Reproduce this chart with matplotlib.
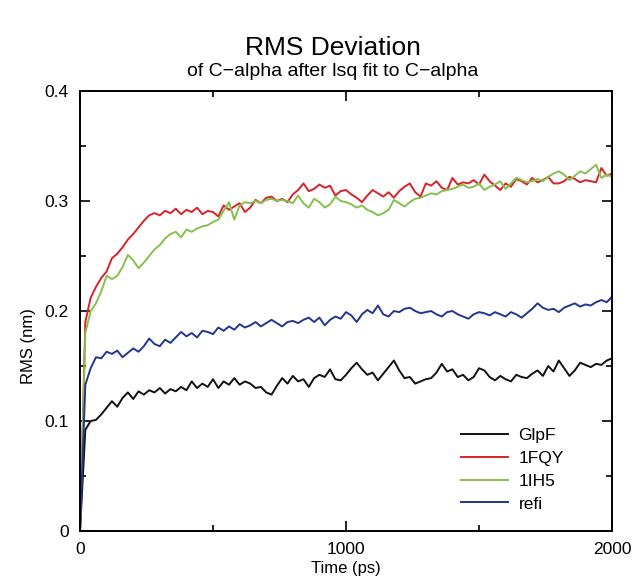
import numpy as np
import matplotlib
matplotlib.use("Agg")
import matplotlib.pyplot as plt
from matplotlib.ticker import MultipleLocator

plt.rcParams['font.family'] = ['Liberation Sans', 'DejaVu Sans']

# time axis, one frame every 20 ps
time = np.arange(0, 2001, 20)

glpf = [
    0.0, 0.092, 0.100, 0.101, 0.106, 0.112, 0.118, 0.113, 0.121, 0.126,
    0.120, 0.127, 0.124, 0.128, 0.126, 0.130, 0.125, 0.129, 0.127, 0.131,
    0.128, 0.136, 0.130, 0.134, 0.131, 0.138, 0.130, 0.136, 0.133, 0.139,
    0.133, 0.136, 0.134, 0.130, 0.131, 0.126, 0.124, 0.132, 0.139, 0.134,
    0.141, 0.136, 0.138, 0.131, 0.139, 0.142, 0.140, 0.147, 0.138, 0.137,
    0.142, 0.148, 0.153, 0.147, 0.142, 0.144, 0.137, 0.143, 0.149, 0.155,
    0.146, 0.139, 0.140, 0.134, 0.136, 0.138, 0.139, 0.144, 0.152, 0.145,
    0.147, 0.140, 0.142, 0.137, 0.140, 0.148, 0.146, 0.140, 0.137, 0.141,
    0.138, 0.136, 0.142, 0.140, 0.139, 0.143, 0.146, 0.141, 0.150, 0.145,
    0.155, 0.148, 0.141, 0.146, 0.153, 0.151, 0.149, 0.152, 0.151, 0.155,
    0.157]

fqy = [
    0.0, 0.190, 0.212, 0.222, 0.230, 0.236, 0.248, 0.252, 0.258, 0.265,
    0.270, 0.276, 0.282, 0.287, 0.289, 0.287, 0.291, 0.289, 0.293, 0.288,
    0.292, 0.290, 0.294, 0.288, 0.291, 0.290, 0.286, 0.296, 0.292, 0.295,
    0.298, 0.290, 0.294, 0.301, 0.298, 0.303, 0.304, 0.300, 0.302, 0.299,
    0.306, 0.310, 0.316, 0.309, 0.311, 0.315, 0.312, 0.314, 0.305, 0.309,
    0.310, 0.306, 0.303, 0.299, 0.305, 0.310, 0.307, 0.304, 0.308, 0.303,
    0.309, 0.313, 0.316, 0.308, 0.304, 0.316, 0.314, 0.318, 0.312, 0.310,
    0.321, 0.315, 0.317, 0.316, 0.319, 0.315, 0.324, 0.318, 0.314, 0.310,
    0.316, 0.313, 0.320, 0.318, 0.315, 0.321, 0.317, 0.319, 0.322, 0.316,
    0.316, 0.318, 0.322, 0.320, 0.317, 0.319, 0.318, 0.317, 0.330, 0.323,
    0.325]

ih5 = [
    0.0, 0.180, 0.200, 0.207, 0.218, 0.232, 0.229, 0.232, 0.240, 0.251,
    0.246, 0.239, 0.244, 0.250, 0.256, 0.260, 0.266, 0.270, 0.272, 0.267,
    0.274, 0.272, 0.275, 0.277, 0.278, 0.281, 0.283, 0.291, 0.299, 0.283,
    0.296, 0.299, 0.298, 0.300, 0.298, 0.301, 0.302, 0.300, 0.301, 0.300,
    0.298, 0.305, 0.298, 0.294, 0.302, 0.299, 0.294, 0.297, 0.304, 0.300,
    0.299, 0.297, 0.294, 0.296, 0.292, 0.290, 0.287, 0.289, 0.292, 0.301,
    0.298, 0.295, 0.299, 0.302, 0.303, 0.305, 0.307, 0.306, 0.309, 0.310,
    0.311, 0.313, 0.315, 0.312, 0.313, 0.316, 0.310, 0.313, 0.315, 0.318,
    0.311, 0.316, 0.321, 0.319, 0.317, 0.318, 0.320, 0.318, 0.322, 0.325,
    0.327, 0.324, 0.319, 0.323, 0.327, 0.325, 0.329, 0.333, 0.321, 0.324,
    0.322]

refi = [
    0.0, 0.133, 0.148, 0.158, 0.157, 0.163, 0.161, 0.164, 0.158, 0.162,
    0.166, 0.163, 0.168, 0.175, 0.170, 0.168, 0.174, 0.171, 0.176, 0.181,
    0.177, 0.180, 0.176, 0.182, 0.181, 0.179, 0.185, 0.182, 0.186, 0.183,
    0.188, 0.185, 0.187, 0.190, 0.186, 0.189, 0.192, 0.189, 0.186, 0.190,
    0.191, 0.189, 0.192, 0.194, 0.190, 0.194, 0.187, 0.192, 0.195, 0.193,
    0.199, 0.196, 0.190, 0.197, 0.201, 0.198, 0.205, 0.197, 0.195, 0.200,
    0.199, 0.202, 0.203, 0.200, 0.198, 0.199, 0.200, 0.197, 0.195, 0.199,
    0.200, 0.197, 0.195, 0.193, 0.197, 0.199, 0.198, 0.196, 0.199, 0.197,
    0.195, 0.199, 0.197, 0.194, 0.198, 0.202, 0.207, 0.203, 0.201, 0.202,
    0.199, 0.203, 0.205, 0.207, 0.204, 0.206, 0.205, 0.208, 0.210, 0.208,
    0.213]

labels = ['GlpF', '1FQY', '1IH5', 'refi']
colors = ['#111111', '#d8222b', '#86c04c', '#23368f']

fig = plt.figure(figsize=(6.37, 5.82), dpi=100)
ax = fig.add_axes([0.1256, 0.0876, 0.8352, 0.756])

for ys, lab, c in zip([glpf, fqy, ih5, refi], labels, colors):
    ax.plot(time, ys, color=c, lw=1.4, label=lab)

ax.set_xlim(0, 2000)
ax.set_ylim(0, 0.4)
ax.xaxis.set_major_locator(MultipleLocator(1000))
ax.xaxis.set_minor_locator(MultipleLocator(500))
ax.yaxis.set_minor_locator(MultipleLocator(0.05))
ax.set_yticks([0, 0.1, 0.2, 0.3, 0.4])
ax.set_yticklabels(['0', '0.1', '0.2', '0.3', '0.4'])
ax.tick_params(which='both', direction='in', top=True, right=True, width=1.2, labelsize=12.5)
ax.tick_params(which='major', length=7, pad=8)
ax.tick_params(which='minor', length=4)
for s in ax.spines.values():
    s.set_linewidth(1.4)

ax.set_xlabel('Time (ps)', fontsize=12, labelpad=3)
ax.set_ylabel('RMS (nm)', fontsize=12)
ax.yaxis.set_label_coords(-0.083, 0.42)

fig.text(0.523, 0.918, 'RMS Deviation', ha='center', va='center', fontsize=19)
fig.text(0.523, 0.877, 'of C\u2212alpha after lsq fit to C\u2212alpha', ha='center', va='center', fontsize=14)

ax.legend(loc='upper left', bbox_to_anchor=(0.70, 0.255), frameon=False,
          fontsize=12.5, handlelength=2.7, handletextpad=0.6, labelspacing=0.45,
          borderpad=0)

fig.savefig('out.png', dpi=100, facecolor='white')
